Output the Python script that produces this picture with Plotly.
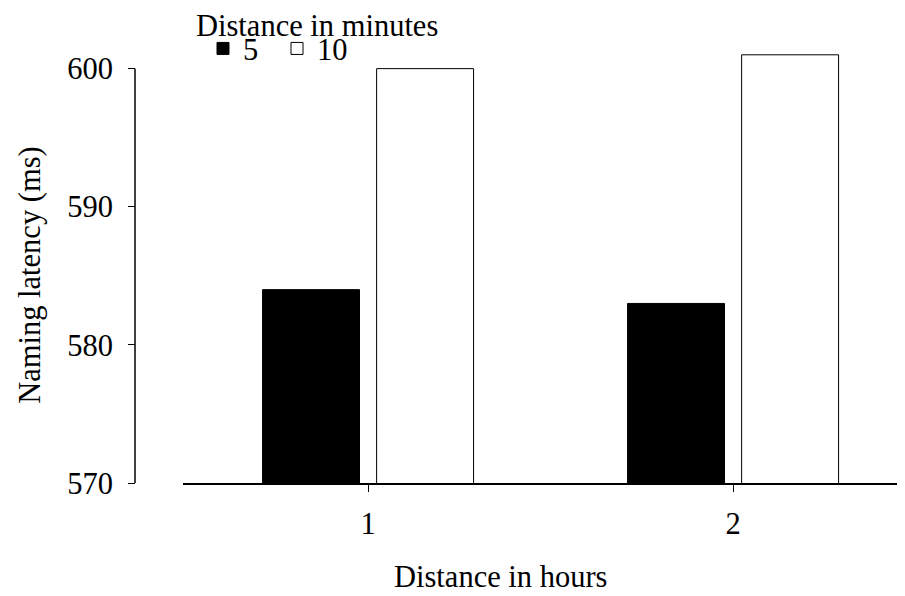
import plotly.graph_objects as go

categories = ["1", "2"]
series_names = ["5", "10"]
values_5 = [584, 583]
values_10 = [600, 601]
y_ticks = [570, 580, 590, 600]

FONT = "Times New Roman, Liberation Serif, serif"
FS = 30.5

# the page adds an 8px body margin; work in reference pixel coords and shift
OFF = 8
W, H = 905 - OFF, 596 - OFF
L, R = 135 - OFF, 0
T = 41.4 - OFF
B = H - (483 - OFF)
pw = W - L - R
ph = H - T - B

def px_x(x):
    return (x - OFF - L) / pw

def px_y(y):
    return (H - B - (y - OFF)) / ph

def f(size=FS):
    return dict(family=FONT, size=size, color="black")

fig = go.Figure()
fig.add_trace(go.Bar(name=series_names[0], x=categories, y=values_5,
                     marker=dict(color="black", line=dict(color="black", width=1))))
fig.add_trace(go.Bar(name=series_names[1], x=categories, y=values_10,
                     marker=dict(color="white", line=dict(color="black", width=1))))

fig.update_layout(
    width=W, height=H,
    margin=dict(l=L, r=R, t=T, b=B, pad=0),
    paper_bgcolor="white", plot_bgcolor="white",
    font=f(),
    barmode="group", bargap=0.375, bargroupgap=0.15,
    showlegend=True,
    legend=dict(
        orientation="h", x=px_x(203), xanchor="left", y=px_y(49), yanchor="middle",
        font=f(), bgcolor="rgba(0,0,0,0)", traceorder="normal",
        itemwidth=30, entrywidth=29, entrywidthmode="pixels",
    ),
    xaxis=dict(
        type="category", domain=[px_x(183), 1], range=[-0.507, 1.471],
        showline=True, linecolor="black", linewidth=1.5,
        ticks="outside", ticklen=7, tickcolor="black", tickwidth=1,
        showgrid=False, zeroline=False, ticklabelstandoff=6,
        tickfont=f(),
    ),
    yaxis=dict(
        range=[570, 602], anchor="free", position=0,
        showline=False, tickvals=y_ticks,
        ticks="outside", ticklen=7, tickcolor="black", tickwidth=1,
        showgrid=False, zeroline=False, ticklabelstandoff=9,
        tickfont=f(),
    ),
    shapes=[dict(type="line", xref="paper", yref="y", x0=0, x1=0,
                 y0=y_ticks[0], y1=y_ticks[-1], line=dict(color="black", width=1.5))],
    annotations=[
        dict(text="Distance in minutes", xref="paper", yref="paper",
             x=px_x(194), y=px_y(26), xanchor="left", yanchor="middle",
             showarrow=False, font=f()),
        dict(text="Distance in hours", xref="paper", yref="paper",
             x=px_x(500), y=px_y(577), xanchor="center", yanchor="middle",
             showarrow=False, font=f()),
        dict(text="Naming latency (ms)", xref="paper", yref="paper",
             x=px_x(30), y=px_y(276), xanchor="center", yanchor="middle",
             textangle=-90, showarrow=False, font=f()),
    ],
)

fig.write_html("out.html")
